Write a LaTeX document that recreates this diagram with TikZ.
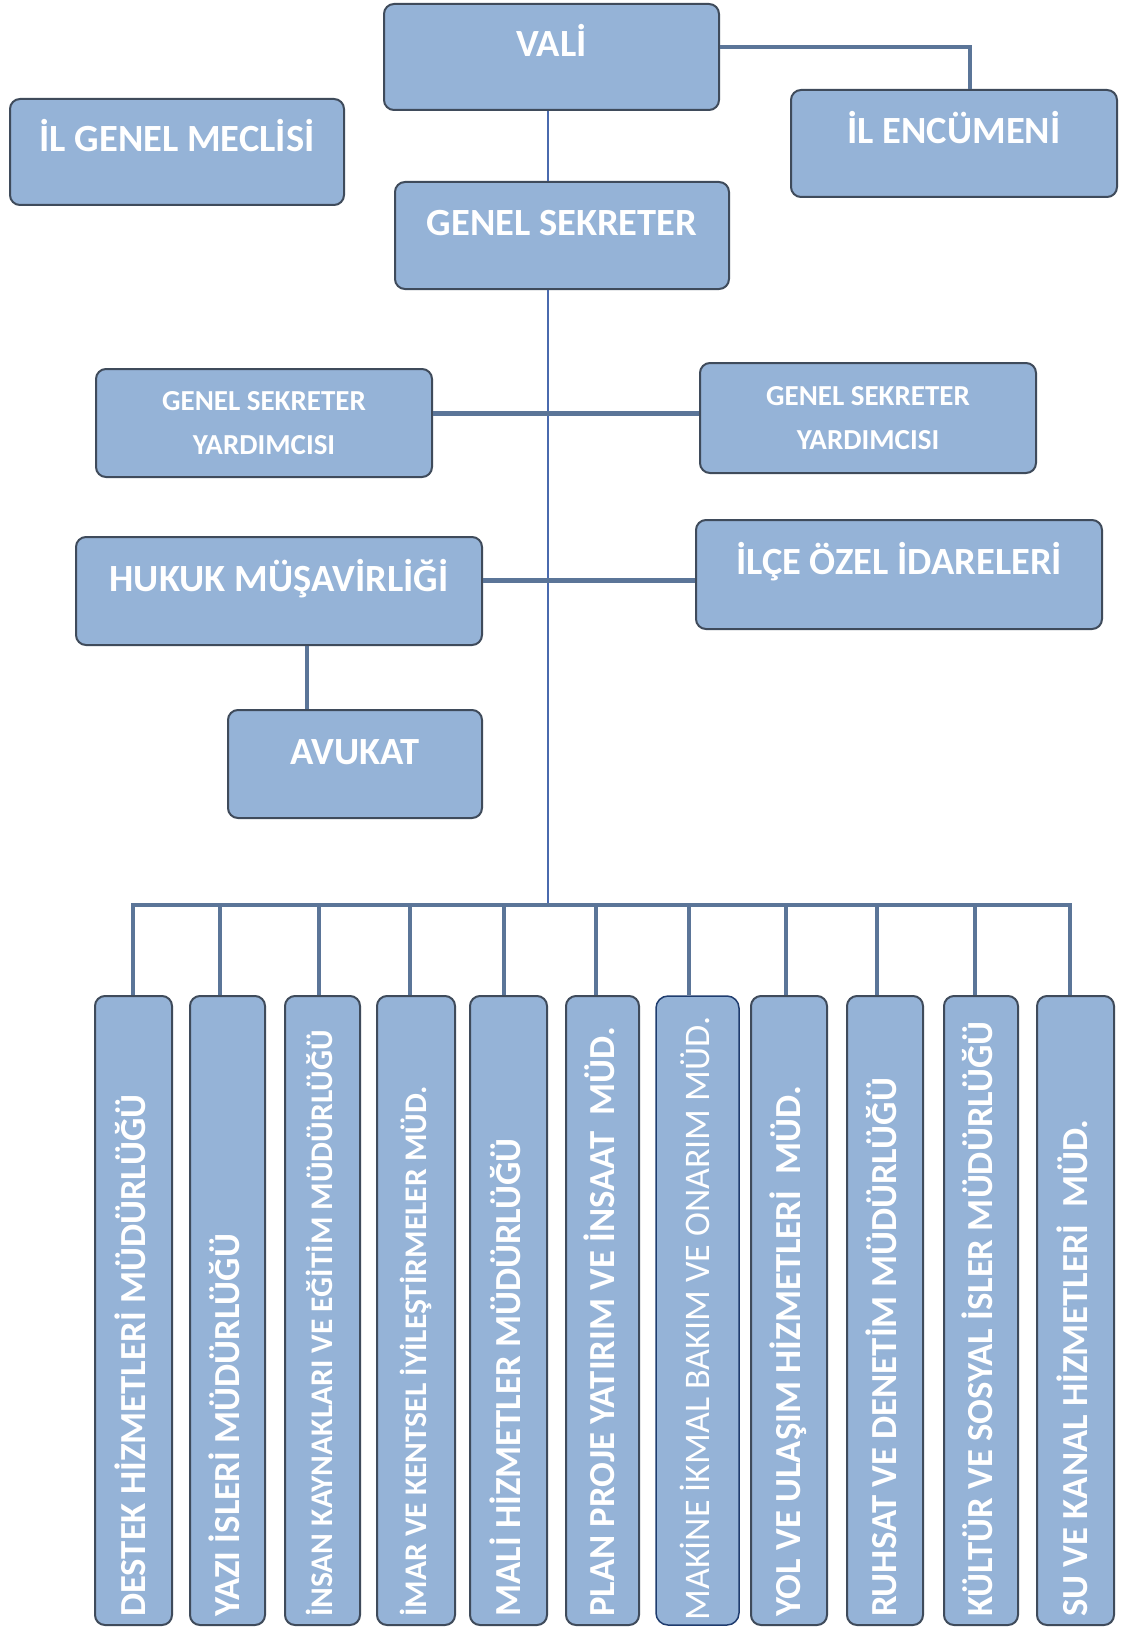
\documentclass[tikz,border=0pt]{standalone}
\usepackage{fontspec}
\setmainfont{Carlito}
\usetikzlibrary{calc}
\definecolor{boxfill}{HTML}{95B3D7}
\definecolor{boxline}{HTML}{3F4B5B}
\definecolor{connc}{HTML}{5B7598}
\definecolor{trunkc}{HTML}{4A6AAE}
\definecolor{navyc}{HTML}{1F3C6E}
\begin{document}
\begin{tikzpicture}[x=1pt,y=-1pt,
  box/.style={draw=boxline, line width=2pt, fill=boxfill, rounded corners=10pt, inner sep=0pt, text=white, align=center},
  navybox/.style={box, draw=navyc, line width=1.5pt, rounded corners=12pt},
  conn/.style={draw=connc, line width=4pt},
  thinconn/.style={draw=trunkc, line width=2.2pt},
  topfont/.style={font=\fontsize{38.5}{40}\selectfont\bfseries},
  subfont/.style={font=\fontsize{29}{44}\selectfont\bfseries},
  vt/.style={rotate=90, anchor=west, inner sep=0pt, text=white, text height=23pt, text depth=0pt, font=\fontsize{36.7}{40}\selectfont\bfseries},
  vtsmall/.style={vt, text height=20pt, font=\fontsize{31.5}{34}\selectfont\bfseries},
  vtreg/.style={vt, font=\fontsize{36}{40}\selectfont},
  low/.style={minimum width=#1, minimum height=629pt}
]
\useasboundingbox[fill=white] (0,0) rectangle (1120,1629);

% top boxes
\node[box, topfont, minimum width=335pt, minimum height=106pt] (vali) at (551.5,57) {\raisebox{0pt}[0pt][0pt]{VALİ}};
\node[box, topfont, minimum width=334pt, minimum height=106pt] (meclis) at (177,152) {\raisebox{0pt}[0pt][0pt]{İL GENEL MECLİSİ}};
\node[box, topfont, minimum width=326pt, minimum height=107pt] (encumen) at (954,143.5) {\raisebox{0pt}[0pt][0pt]{İL ENCÜMENİ}};
\node[box, topfont, minimum width=334pt, minimum height=107pt] (gs) at (562,235.5) {\raisebox{0pt}[0pt][0pt]{GENEL SEKRETER}};
\node[box, subfont, minimum width=336pt, minimum height=108pt] (gsyL) at (264,423) {GENEL SEKRETER\\YARDIMCISI};
\node[box, subfont, minimum width=336pt, minimum height=110pt] (gsyR) at (868,418) {GENEL SEKRETER\\YARDIMCISI};
\node[box, topfont, minimum width=406pt, minimum height=108pt] (hukuk) at (279,591) {\raisebox{0pt}[0pt][0pt]{HUKUK MÜŞAVİRLİĞİ}};
\node[box, topfont, minimum width=406pt, minimum height=109pt] (ilce) at (899,574.5) {\raisebox{0pt}[0pt][0pt]{İLÇE ÖZEL İDARELERİ}};
\node[box, topfont, minimum width=254pt, minimum height=108pt] (avukat) at (355,764) {\raisebox{0pt}[0pt][0pt]{AVUKAT}};

% bottom boxes
\node[box, low=77pt] (b1) at (133.5,1310.5) {};
\node[box, low=75pt] (b2) at (227.5,1310.5) {};
\node[box, low=75pt] (b3) at (322.5,1310.5) {};
\node[box, low=78pt] (b4) at (416,1310.5) {};
\node[box, low=77pt] (b5) at (508.5,1310.5) {};
\node[box, low=73pt] (b6) at (602.5,1310.5) {};
\node[navybox, low=83pt] (b7) at (697.5,1310.5) {};
\node[box, low=76pt] (b8) at (789,1310.5) {};
\node[box, low=76pt] (b9) at (885,1310.5) {};
\node[box, low=74pt] (b10) at (981,1310.5) {};
\node[box, low=77pt] (b11) at (1075.5,1310.5) {};

% vertical labels
\node[vt] (t1) at ($(b1.south)+(0,-9)$) {DESTEK HİZMETLERİ MÜDÜRLÜĞÜ};
\node[vt] (t2) at ($(b2.south)+(0,-9)$) {YAZI İSLERİ MÜDÜRLÜĞÜ};
\node[vtsmall] (t3) at ($(b3.south)+(0,-9)$) {İNSAN KAYNAKLARI VE EĞİTİM MÜDÜRLÜĞÜ};
\node[vtsmall] (t4) at ($(b4.south)+(0,-9)$) {İMAR VE KENTSEL İYİLEŞTİRMELER MÜD.};
\node[vt] (t5) at ($(b5.south)+(0,-9)$) {MALİ HİZMETLER MÜDÜRLÜĞÜ};
\node[vt] (t6) at ($(b6.south)+(0,-9)$) {PLAN PROJE YATIRIM VE İNSAAT\ \ MÜD.};
\node[vtreg] (t7) at ($(b7.south)+(0,-5)$) {MAKİNE İKMAL BAKIM VE ONARIM MÜD.};
\node[vt] (t8) at ($(b8.south)+(0,-9)$) {YOL VE ULAŞIM HİZMETLERİ\ \ MÜD.};
\node[vt] (t9) at ($(b9.south)+(0,-9)$) {RUHSAT VE DENETİM MÜDÜRLÜĞÜ};
\node[vt] (t10) at ($(b10.south)+(0,-9)$) {KÜLTÜR VE SOSYAL İSLER MÜDÜRLÜĞÜ};
\node[vt] (t11) at ($(b11.south)+(0,-9)$) {SU VE KANAL HİZMETLERİ\ \ MÜD.};

% connectors
\coordinate (bus) at (548,905);
\draw[conn] ([yshift=10pt]vali.east) -| ([xshift=16pt]encumen.north);
\draw[thinconn] ([xshift=-3.5pt]vali.south) -- ([xshift=-3.5pt]vali.south |- gs.north);
\draw[thinconn] ([xshift=-14pt]gs.south) -- (bus);
\draw[conn, line width=5pt] ([yshift=10pt]gsyL.east) -- ([yshift=10pt]gsyL.east -| gsyR.west);
\draw[conn, line width=5pt] ([yshift=11pt]hukuk.east) -- ([yshift=11pt]hukuk.east -| ilce.west);
\draw[conn] ([xshift=28pt]hukuk.south) -- ([xshift=28pt]hukuk.south |- avukat.north);
\draw[conn, line join=miter] ([xshift=-0.5pt]b1.north) |- (bus) -| ([xshift=-5.5pt]b11.north);
\draw[conn] ([xshift=-7.5pt]b2.north |- bus) -- ([xshift=-7.5pt]b2.north);
\draw[conn] ([xshift=-3.5pt]b3.north |- bus) -- ([xshift=-3.5pt]b3.north);
\draw[conn] ([xshift=-6pt]b4.north |- bus) -- ([xshift=-6pt]b4.north);
\draw[conn] ([xshift=-4.5pt]b5.north |- bus) -- ([xshift=-4.5pt]b5.north);
\draw[conn] ([xshift=-6.5pt]b6.north |- bus) -- ([xshift=-6.5pt]b6.north);
\draw[conn] ([xshift=-8.5pt]b7.north |- bus) -- ([xshift=-8.5pt]b7.north);
\draw[conn] ([xshift=-3pt]b8.north |- bus) -- ([xshift=-3pt]b8.north);
\draw[conn] ([xshift=-8pt]b9.north |- bus) -- ([xshift=-8pt]b9.north);
\draw[conn] ([xshift=-6pt]b10.north |- bus) -- ([xshift=-6pt]b10.north);
\end{tikzpicture}
\end{document}
